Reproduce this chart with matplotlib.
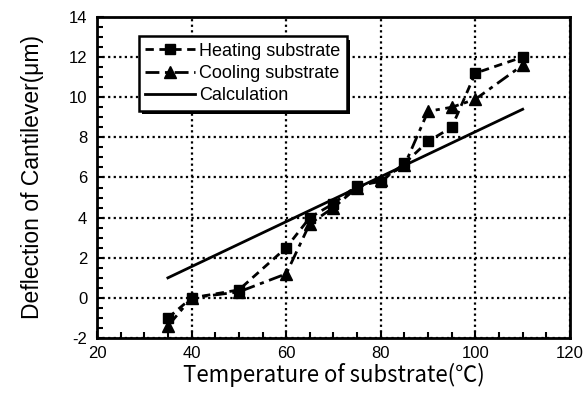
import matplotlib.pyplot as plt
from matplotlib import patheffects
from matplotlib.ticker import MultipleLocator

plt.rcParams['font.family'] = ['Liberation Sans', 'DejaVu Sans']
plt.rcParams['axes.unicode_minus'] = False

# heating run (squares)
t_heat = [35, 40, 50, 60, 65, 70, 75, 80, 85, 90, 95, 100, 110]
d_heat = [-1.0, 0.0, 0.4, 2.5, 4.0, 4.7, 5.6, 5.8, 6.7, 7.8, 8.5, 11.2, 12.0]

# cooling run (triangles)
t_cool = [35, 40, 50, 60, 65, 70, 75, 80, 85, 90, 95, 100, 110]
d_cool = [-1.4, 0.0, 0.3, 1.2, 3.7, 4.5, 5.5, 5.9, 6.6, 9.3, 9.5, 9.9, 11.6]

# calculated deflection
t_calc = [35, 110]
d_calc = [1.0, 9.4]

fig, ax = plt.subplots(figsize=(5.84, 3.94), dpi=100)
fig.subplots_adjust(left=0.166, right=0.976, top=0.957, bottom=0.142)

ax.plot(t_heat, d_heat, color='black', lw=2, linestyle=(0, (3, 2)),
        marker='s', ms=7, label='Heating substrate')
ax.plot(t_cool, d_cool, color='black', lw=2, linestyle=(0, (5, 2, 1.5, 2)),
        marker='^', ms=8, label='Cooling substrate')
ax.plot(t_calc, d_calc, color='black', lw=2, label='Calculation')

ax.set_xlim(20, 120)
ax.set_ylim(-2, 14)
ax.xaxis.set_major_locator(MultipleLocator(20))
ax.xaxis.set_minor_locator(MultipleLocator(5))
ax.yaxis.set_major_locator(MultipleLocator(2))
ax.yaxis.set_minor_locator(MultipleLocator(0.5))
ax.tick_params(which='both', direction='in', labelsize=12, width=1.5)
ax.tick_params(which='major', length=5)
ax.tick_params(which='minor', length=4)
ax.tick_params(axis='x', pad=6)
ax.tick_params(axis='y', pad=7)

for s in ax.spines.values():
    s.set_linewidth(2)

ax.grid(True, color='black', linestyle=(0, (1, 1.5)), lw=1.6)

ax.set_xlabel('Temperature of substrate(℃)', fontsize=16,
              family=['Noto Sans CJK JP', 'DejaVu Sans'], labelpad=1)
ax.set_ylabel('Deflection of Cantilever(μm)', fontsize=16.5, labelpad=18)

leg = ax.legend(loc='upper left', bbox_to_anchor=(0.088, 0.94), fontsize=13,
                fancybox=False, edgecolor='black', framealpha=1,
                handlelength=2.8, borderpad=0.35, labelspacing=0.3,
                handletextpad=0.2, borderaxespad=0)
frame = leg.get_frame()
frame.set_linewidth(1.8)
frame.set_path_effects([
    patheffects.SimplePatchShadow(offset=(2.5, -2.5), shadow_rgbFace='black',
                                  alpha=1),
    patheffects.Normal()])

fig.savefig('out.png')
